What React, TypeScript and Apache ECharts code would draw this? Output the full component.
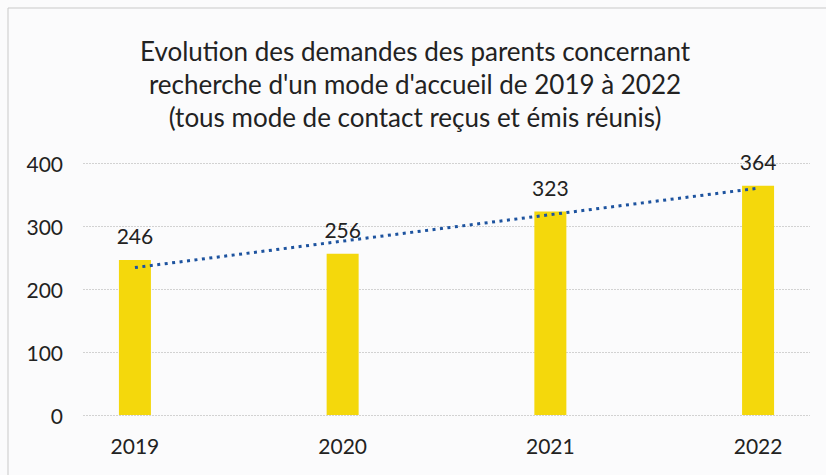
import React, { useEffect, useRef } from "react";
import * as echarts from "echarts";

const years = ["2019", "2020", "2021", "2022"];
const demandes = [246, 256, 323, 364];
const yTicks = [0, 100, 200, 300, 400];
// trend line end points (at 2019 and 2022)
const trendEnds = [234, 360];

const FONT = "Lato, 'Open Sans', sans-serif";

export default function App() {
  const ref = useRef<HTMLDivElement>(null);
  useEffect(() => {
    document.body.style.margin = "0";
    const chart = echarts.init(ref.current!, null, { renderer: "svg" });
    chart.setOption({
      animation: false,
      backgroundColor: "#fbfbfc",
      title: {
        text:
          "Evolution des demandes des parents concernant\nrecherche d'un mode d'accueil de 2019 à 2022\n(tous mode de contact reçus et émis réunis)",
        left: 410,
        textAlign: "center",
        top: 29,
        textStyle: {
          fontFamily: FONT,
          fontSize: 26,
          fontWeight: "normal",
          lineHeight: 33,
          color: "#222",
        },
      },
      graphic: [
        {
          type: "rect",
          shape: { x: 8, y: 8, width: 830, height: 470 },
          style: { fill: "none", stroke: "#c9c9c9", lineWidth: 1 },
        },
      ],
      grid: { left: 83, right: 16, top: 163, bottom: 60 },
      xAxis: {
        type: "value",
        min: -0.25,
        max: 3.25,
        splitLine: { show: false },
        axisLine: { show: false },
        axisTick: { show: false },
        axisLabel: {
          customValues: [0, 1, 2, 3],
          formatter: (v: number) => years[Math.round(v)] ?? "",
          fontFamily: FONT,
          fontSize: 21,
          color: "#222",
          margin: 20,
        },
      },
      yAxis: {
        type: "value",
        min: yTicks[0],
        max: yTicks[yTicks.length - 1],
        interval: 100,
        axisLine: { show: false },
        axisTick: { show: false },
        axisLabel: {
          fontFamily: FONT,
          fontSize: 21,
          color: "#222",
          margin: 20,
        },
        splitLine: {
          lineStyle: { color: "#d2d2d2", width: 1, type: [2, 1] },
        },
      },
      series: [
        {
          type: "bar",
          data: demandes.map((v, i) => [i, v]),
          barWidth: 32,
          itemStyle: { color: "#F4D80C" },
          label: {
            show: true,
            position: "top",
            distance: 14,
            fontFamily: FONT,
            fontSize: 21,
            color: "#222",
            formatter: (p: any) => String(p.value[1]),
          },
        },
        {
          type: "line",
          data: [
            [0, trendEnds[0]],
            [3, trendEnds[1]],
          ],
          symbol: "none",
          lineStyle: { color: "#1d539f", width: 3, type: [3, 4.5] },
          z: 5,
        },
      ],
    });
    return () => chart.dispose();
  }, []);
  return (
    <div
      ref={ref}
      style={{ position: "fixed", left: 0, top: 0, width: 826, height: 475 }}
    />
  );
}
